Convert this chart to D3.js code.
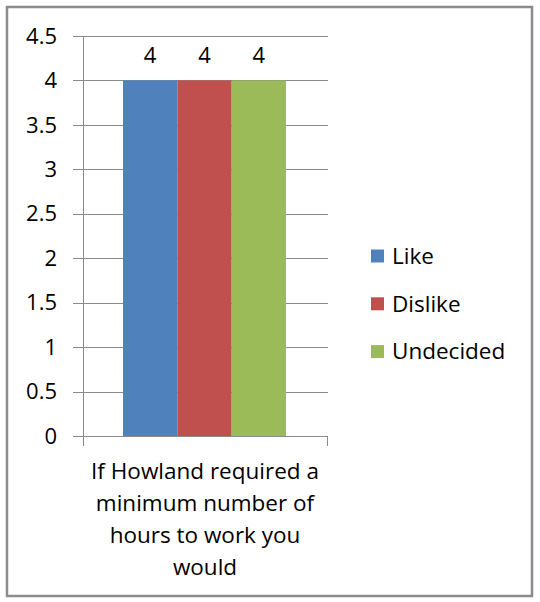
<!DOCTYPE html>
<html>
<head>
<meta charset="utf-8">
<script src="https://cdnjs.cloudflare.com/ajax/libs/d3/7.8.5/d3.min.js"></script>
<style>
  body { margin: 0; background: #fff; }
  text { font-family: "Open Sans", "Liberation Sans", sans-serif; fill: #000; }
</style>
</head>
<body>
<div id="chart"></div>
<script>
var categories = ["If Howland required a minimum number of hours to work you would"];
var categoryLines = ["If Howland required a", "minimum number of", "hours to work you", "would"];
var series = ["Like", "Dislike", "Undecided"];
var values = [4, 4, 4];
var colors = ["#4F81BD", "#C0504D", "#9BBB59"];
var yTicks = [0, 0.5, 1, 1.5, 2, 2.5, 3, 3.5, 4, 4.5];

var W = 540, H = 602;
var margin = {top: 36, left: 83, right: 212, bottom: 166};
var width = W - margin.left - margin.right,
    height = H - margin.top - margin.bottom;

var svg = d3.select("#chart").append("svg")
    .attr("width", W)
    .attr("height", H);

// outer frame
svg.append("rect")
    .attr("x", 7).attr("y", 7)
    .attr("width", 525).attr("height", 589)
    .attr("fill", "#fff")
    .attr("stroke", "#8c8c8c")
    .attr("stroke-width", 2.5);

var g = svg.append("g")
    .attr("transform", "translate(" + margin.left + "," + margin.top + ")");

var y = d3.scaleLinear().domain([0, 4.5]).range([height, 0]);

var x1 = d3.scaleBand().domain(series).range([40, 203]);

// gridlines + ticks
g.selectAll(".grid")
    .data(yTicks)
    .enter()
    .append("line")
    .attr("x1", -10)
    .attr("x2", width)
    .attr("y1", function(d) { return Math.round(y(d)) + 0.5; })
    .attr("y2", function(d) { return Math.round(y(d)) + 0.5; })
    .attr("stroke", "#8a8a8a")
    .attr("stroke-width", 1);

g.selectAll(".ytick")
    .data(yTicks)
    .enter()
    .append("text")
    .attr("x", -26)
    .attr("y", function(d) { return y(d); })
    .attr("dy", "0.35em")
    .attr("text-anchor", "end")
    .style("font-size", "22px")
    .text(function(d) { return d; });

// bars
g.selectAll(".bar")
    .data(values)
    .enter()
    .append("rect")
    .attr("x", function(d, i) { return x1(series[i]); })
    .attr("y", function(d) { return y(d); })
    .attr("width", x1.bandwidth())
    .attr("height", function(d) { return height - y(d); })
    .attr("fill", function(d, i) { return colors[i]; });

g.selectAll(".val")
    .data(values)
    .enter()
    .append("text")
    .attr("x", function(d, i) { return x1(series[i]) + x1.bandwidth() / 2; })
    .attr("y", function(d) { return y(d) - 25; })
    .attr("dy", "0.35em")
    .attr("text-anchor", "middle")
    .style("font-size", "22px")
    .text(function(d) { return d; });

// axes lines
g.append("line")
    .attr("x1", 0.5).attr("x2", 0.5)
    .attr("y1", 0).attr("y2", height + 10)
    .attr("stroke", "#8a8a8a");
g.append("line")
    .attr("x1", width - 0.5).attr("x2", width - 0.5)
    .attr("y1", height).attr("y2", height + 10)
    .attr("stroke", "#8a8a8a");

// category label
g.append("text")
    .attr("text-anchor", "middle")
    .style("font-size", "22.5px")
    .selectAll("tspan")
    .data(categoryLines)
    .enter()
    .append("tspan")
    .attr("x", 122)
    .attr("y", function(d, i) { return height + 35 + i * 32; })
    .attr("dy", "0.35em")
    .text(function(d) { return d; });

// legend
var legend = svg.append("g").attr("transform", "translate(371,256)");
legend.selectAll(".lg")
    .data(series)
    .enter()
    .append("rect")
    .attr("x", 0)
    .attr("y", function(d, i) { return i * 47.8 - 6.5; })
    .attr("width", 13)
    .attr("height", 13)
    .attr("fill", function(d, i) { return colors[i]; });
legend.selectAll(".lt")
    .data(series)
    .enter()
    .append("text")
    .attr("x", 21)
    .attr("y", function(d, i) { return i * 47.8; })
    .attr("dy", "0.35em")
    .style("font-size", "22.5px")
    .text(function(d) { return d; });
</script>
</body>
</html>
